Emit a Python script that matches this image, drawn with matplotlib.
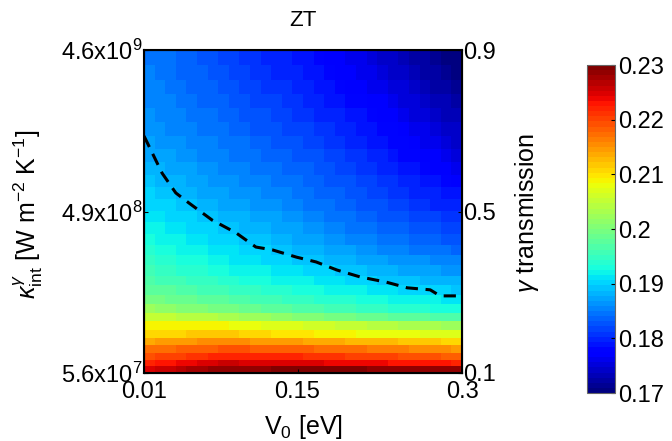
import numpy as np
import matplotlib
matplotlib.use('Agg')
import matplotlib.pyplot as plt

plt.rcParams['font.family'] = ['Liberation Sans', 'DejaVu Sans']
plt.rcParams['mathtext.fontset'] = 'custom'
plt.rcParams['mathtext.rm'] = 'Liberation Sans'
plt.rcParams['mathtext.it'] = 'Liberation Sans:italic'

# ZT map (x 1e-4), rows from gamma = 0.1 (bottom) to 0.9 (top), columns V0 0.01 -> 0.3
zt_e4 = [
    [2250,2255,2261,2266,2272,2277,2282,2288,2289,2289,2290,2290,2291,2291,2292,2293,2293,2292,2292,2291,2291,2290,2290,2289,2289,2288,2287,2287,2286,2285],
    [2225,2229,2234,2238,2242,2246,2251,2255,2254,2253,2251,2250,2249,2248,2246,2245,2244,2242,2241,2240,2238,2237,2235,2234,2232,2231,2230,2228,2227,2225],
    [2195,2199,2202,2206,2209,2213,2216,2220,2219,2219,2218,2218,2217,2216,2216,2215,2213,2211,2209,2206,2204,2202,2200,2198,2196,2194,2191,2189,2187,2185],
    [2170,2173,2176,2179,2181,2184,2187,2190,2189,2188,2186,2185,2184,2183,2181,2180,2178,2176,2174,2171,2169,2167,2165,2163,2161,2159,2156,2154,2152,2150],
    [2140,2142,2144,2146,2149,2151,2153,2155,2153,2151,2149,2148,2146,2144,2142,2140,2138,2136,2134,2131,2129,2127,2125,2123,2121,2119,2116,2114,2112,2110],
    [2110,2111,2111,2112,2113,2114,2114,2115,2113,2110,2108,2105,2103,2100,2098,2095,2093,2091,2089,2087,2084,2082,2080,2079,2077,2076,2074,2073,2071,2070],
    [2090,2089,2089,2088,2087,2087,2086,2085,2083,2080,2078,2075,2073,2070,2068,2065,2061,2058,2054,2051,2047,2044,2040,2038,2036,2034,2032,2029,2027,2025],
    [2055,2052,2049,2046,2044,2041,2038,2035,2031,2028,2024,2020,2016,2013,2009,2005,2002,1998,1995,1992,1988,1985,1982,1980,1977,1975,1972,1970,1967,1965],
    [2020,2016,2013,2009,2006,2002,1999,1995,1991,1988,1984,1980,1977,1973,1970,1966,1963,1960,1957,1954,1951,1948,1945,1943,1941,1939,1937,1934,1932,1930],
    [1997,1993,1990,1986,1983,1979,1976,1972,1969,1965,1962,1959,1956,1952,1949,1946,1943,1940,1937,1935,1932,1929,1926,1924,1922,1920,1918,1916,1914,1912],
    [1980,1976,1973,1969,1966,1962,1959,1955,1952,1949,1946,1943,1939,1936,1933,1930,1927,1924,1921,1919,1916,1913,1910,1908,1906,1904,1902,1899,1897,1895],
    [1966,1962,1959,1955,1951,1947,1944,1940,1937,1934,1931,1928,1925,1922,1919,1916,1913,1910,1907,1905,1902,1899,1896,1894,1891,1889,1887,1885,1882,1880],
    [1955,1951,1947,1943,1940,1936,1932,1928,1925,1922,1919,1916,1913,1910,1907,1904,1901,1898,1895,1892,1889,1886,1883,1881,1878,1876,1873,1871,1868,1866],
    [1945,1941,1937,1933,1930,1926,1922,1918,1915,1912,1909,1906,1902,1899,1896,1893,1890,1886,1883,1880,1877,1873,1870,1868,1865,1863,1860,1858,1855,1853],
    [1936,1932,1929,1925,1921,1917,1914,1910,1907,1903,1900,1897,1894,1890,1887,1884,1880,1877,1873,1869,1865,1862,1858,1855,1853,1850,1848,1845,1843,1840],
    [1928,1924,1921,1917,1913,1909,1906,1902,1899,1895,1892,1889,1885,1882,1878,1875,1871,1867,1863,1859,1856,1852,1848,1845,1842,1839,1837,1834,1831,1828],
    [1920,1916,1913,1909,1905,1901,1898,1894,1891,1887,1884,1880,1877,1873,1870,1866,1862,1858,1854,1850,1846,1842,1838,1835,1832,1829,1826,1823,1820,1817],
    [1913,1909,1905,1901,1898,1894,1890,1886,1883,1879,1876,1872,1869,1865,1862,1858,1854,1850,1846,1842,1838,1834,1830,1827,1823,1820,1816,1813,1809,1806],
    [1905,1901,1897,1893,1890,1886,1882,1878,1875,1871,1868,1864,1861,1857,1854,1850,1846,1842,1838,1834,1830,1826,1822,1818,1815,1811,1807,1803,1800,1796],
    [1897,1893,1890,1886,1882,1878,1875,1871,1868,1864,1861,1858,1854,1851,1847,1844,1840,1836,1832,1828,1824,1820,1816,1812,1807,1803,1798,1794,1789,1785],
    [1889,1886,1882,1879,1875,1872,1868,1865,1862,1858,1855,1851,1848,1845,1841,1838,1834,1830,1826,1822,1817,1813,1809,1804,1799,1794,1790,1785,1780,1775],
    [1882,1879,1875,1872,1869,1865,1862,1859,1856,1852,1849,1845,1842,1839,1835,1832,1828,1823,1819,1815,1810,1806,1802,1797,1791,1786,1781,1775,1770,1765],
    [1876,1873,1869,1866,1863,1859,1856,1853,1850,1846,1843,1839,1836,1833,1829,1826,1822,1817,1813,1808,1804,1799,1795,1789,1784,1778,1772,1766,1761,1755],
    [1870,1867,1864,1861,1857,1854,1851,1848,1844,1841,1837,1834,1830,1827,1823,1820,1815,1811,1806,1802,1797,1793,1788,1782,1776,1770,1764,1758,1752,1746],
    [1866,1863,1859,1856,1852,1849,1845,1842,1838,1835,1831,1828,1824,1821,1817,1814,1809,1805,1800,1796,1791,1787,1782,1776,1769,1763,1757,1751,1744,1738],
    [1862,1858,1855,1851,1848,1844,1841,1837,1833,1830,1826,1823,1819,1815,1812,1808,1803,1799,1794,1789,1785,1780,1775,1769,1762,1756,1749,1743,1736,1730],
    [1858,1854,1851,1847,1843,1839,1836,1832,1828,1824,1821,1817,1813,1809,1806,1802,1797,1792,1787,1783,1778,1773,1768,1761,1755,1748,1742,1735,1729,1722],
    [1855,1851,1847,1843,1840,1836,1832,1828,1824,1820,1816,1812,1808,1804,1800,1796,1791,1786,1781,1775,1770,1765,1760,1753,1747,1740,1734,1727,1721,1714],
    [1852,1848,1844,1840,1836,1832,1828,1824,1820,1816,1811,1807,1803,1799,1794,1790,1785,1779,1774,1768,1763,1757,1752,1746,1739,1733,1726,1720,1714,1707],
    [1850,1846,1841,1837,1833,1828,1824,1820,1816,1811,1807,1803,1798,1794,1789,1785,1779,1774,1768,1763,1757,1752,1746,1739,1733,1726,1720,1713,1707,1700],
]
zt = np.array(zt_e4) / 1e4

# dashed boundary line
v0_line = [0.010, 0.0265, 0.039, 0.051, 0.072, 0.094, 0.112, 0.127, 0.149, 0.167, 0.186,
           0.207, 0.231, 0.250, 0.271, 0.280, 0.300]
gamma_line = [0.687, 0.595, 0.546, 0.521, 0.479, 0.447, 0.412, 0.405, 0.387, 0.375, 0.355,
              0.338, 0.325, 0.311, 0.306, 0.291, 0.291]

x_ticks = [0.01, 0.15, 0.3]
x_labels = ['0.01', '0.15', '0.3']
gamma_ticks = [0.1, 0.5, 0.9]
gamma_labels = ['0.1', '0.5', '0.9']
kappa_labels = [r'5.6x10$^{\mathregular{7}}$', r'4.9x10$^{\mathregular{8}}$', r'4.6x10$^{\mathregular{9}}$']
cbar_ticks = [0.17, 0.18, 0.19, 0.2, 0.21, 0.22, 0.23]
cbar_labels = ['0.17', '0.18', '0.19', '0.2', '0.21', '0.22', '0.23']

# grid edges (rows get taller towards the top)
v0_edges = np.linspace(0.01, 0.3, zt.shape[1] + 1)
row_h = np.linspace(6.5, 15.0, zt.shape[0])
gamma_edges = 0.1 + 0.8 * np.concatenate([[0], np.cumsum(row_h)]) / row_h.sum()

fig = plt.figure(figsize=(6.72, 4.41), dpi=100)
ax = fig.add_axes([0.2143, 0.1542, 0.4732, 0.7324])
cmap = plt.get_cmap('jet', 64)
mesh = ax.pcolormesh(v0_edges, gamma_edges, zt, cmap=cmap, vmin=0.17, vmax=0.23)
ax.plot(v0_line, gamma_line, 'k--', lw=2.2, dashes=(4, 2.5))
ax.set_xlim(0.01, 0.3)
ax.set_ylim(0.1, 0.9)

fs = 17
ax.set_xticks(x_ticks)
ax.set_xticklabels(x_labels, fontsize=fs)
ax.set_yticks(gamma_ticks)
ax.set_yticklabels(kappa_labels, fontsize=fs)
ax.tick_params(direction='in', length=3, pad=1)
ax.tick_params(axis='x', pad=6)
ax.set_title('ZT', fontsize=16, pad=17)
ax.set_xlabel(r'V$_{\mathregular{0}}$ [eV]', fontsize=18)
ax.xaxis.set_label_coords(0.5, -0.125)
ax.set_ylabel(r'$\kappa^{\gamma}_{\mathregular{int}}$ [W m$^{\mathregular{-2}}$ K$^{\mathregular{-1}}$]', fontsize=18)
ax.yaxis.set_label_coords(-0.31, 0.49)
for s in ax.spines.values():
    s.set_linewidth(1.5)

ax2 = ax.twinx()
ax2.set_ylim(0.1, 0.9)
ax2.set_yticks(gamma_ticks)
ax2.set_yticklabels(gamma_labels, fontsize=fs)
ax2.tick_params(direction='in', length=3, pad=1)
ax2.set_ylabel(r'$\gamma$ transmission', fontsize=18)
ax2.yaxis.set_label_coords(1.16, 0.495)

cax = fig.add_axes([0.8735, 0.1088, 0.0417, 0.7438])
cb = fig.colorbar(mesh, cax=cax)
cb.set_ticks(cbar_ticks)
cb.set_ticklabels(cbar_labels)
cb.ax.tick_params(labelsize=fs, direction='in', length=3, pad=2)
cb.outline.set_edgecolor('0.4')

plt.savefig('out.png', dpi=100)
